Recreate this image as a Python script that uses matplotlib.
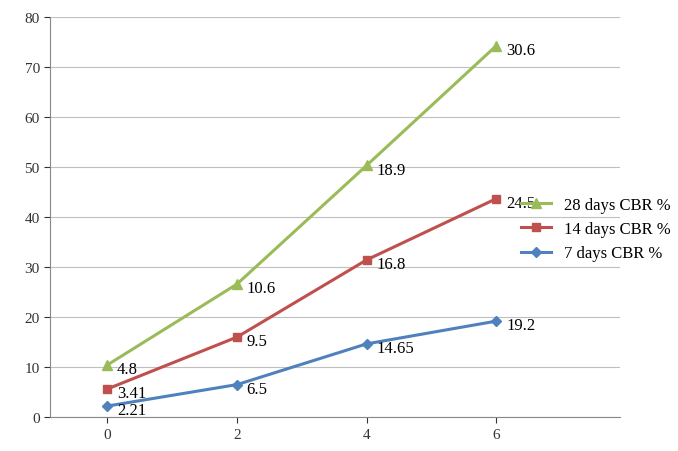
import matplotlib
matplotlib.use("Agg")
import matplotlib.pyplot as plt
import numpy as np

x = [0, 2, 4, 6]
cbr7 = [2.21, 6.5, 14.65, 19.2]
cbr14 = [3.41, 9.5, 16.8, 24.5]
cbr28 = [4.8, 10.6, 18.9, 30.6]

plt.rcParams['font.family'] = ['Liberation Serif']
fig = plt.figure(figsize=(6.78, 4.52), dpi=100)
ax = fig.add_axes([0.074, 0.075, 0.84, 0.885])

s7 = np.array(cbr7)
s14 = s7 + np.array(cbr14)
s28 = s14 + np.array(cbr28)

l28, = ax.plot(x, s28, color='#9BBB59', lw=2.2, marker='^', ms=7, label='28 days CBR %')
l14, = ax.plot(x, s14, color='#C0504D', lw=2.2, marker='s', ms=6, label='14 days CBR %')
l7, = ax.plot(x, s7, color='#4F81BD', lw=2.2, marker='D', ms=5, label='7 days CBR %')

for ys, labs in [(s28, cbr28), (s14, cbr14), (s7, cbr7)]:
    for xi, yi, lb in zip(x, ys, labs):
        ax.annotate(f"{lb:g}", (xi, yi), xytext=(7, -3), textcoords='offset points',
                    fontsize=12, va='center', ha='left')

ax.set_xlim(-0.88, 7.9)
ax.set_ylim(0, 80)
ax.set_xticks(x)
ax.set_yticks(range(0, 81, 10))
ax.grid(axis='y', color='#BFBFBF', lw=0.8)
ax.set_axisbelow(True)
for s in ['top', 'right']:
    ax.spines[s].set_visible(False)
for s in ['left', 'bottom']:
    ax.spines[s].set_color('#888888')
ax.tick_params(labelsize=11, colors='#333333', length=4)
ax.legend(handles=[l28, l14, l7], loc='center left', bbox_to_anchor=(0.815, 0.47),
          frameon=False, fontsize=12, handlelength=1.8, borderaxespad=0,
          labelspacing=0.5)
fig.savefig('out.png', dpi=100)
